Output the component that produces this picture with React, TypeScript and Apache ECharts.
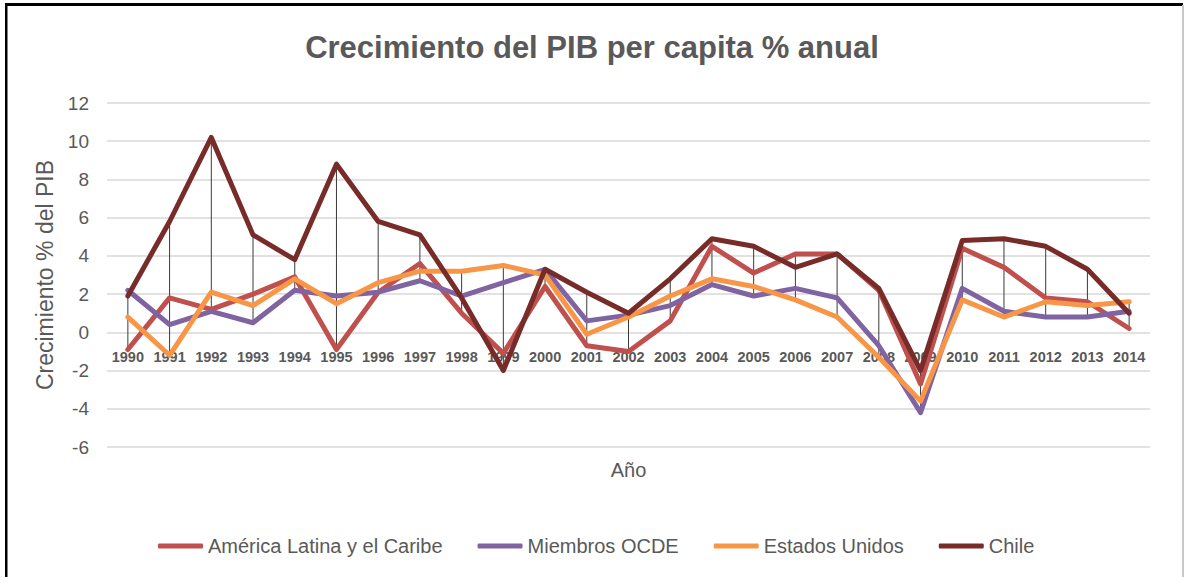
import React, { useEffect, useRef } from "react";
import * as echarts from "echarts";

const years = [
  "1990", "1991", "1992", "1993", "1994", "1995", "1996", "1997", "1998", "1999",
  "2000", "2001", "2002", "2003", "2004", "2005", "2006", "2007", "2008", "2009",
  "2010", "2011", "2012", "2013", "2014",
];

const americaLatina = [
  -0.9, 1.8, 1.2, 2.0, 2.9, -0.9, 2.1, 3.6, 1.0, -1.1,
  2.4, -0.7, -1.0, 0.6, 4.5, 3.1, 4.1, 4.1, 2.2, -2.7,
  4.4, 3.4, 1.8, 1.6, 0.2,
];

const miembrosOCDE = [
  2.2, 0.4, 1.1, 0.5, 2.2, 1.9, 2.1, 2.7, 1.9, 2.6,
  3.3, 0.6, 0.9, 1.4, 2.5, 1.9, 2.3, 1.8, -0.7, -4.2,
  2.3, 1.1, 0.8, 0.8, 1.1,
];

const estadosUnidos = [
  0.8, -1.2, 2.1, 1.4, 2.8, 1.5, 2.6, 3.2, 3.2, 3.5,
  3.0, -0.1, 0.8, 1.9, 2.8, 2.4, 1.7, 0.8, -1.3, -3.6,
  1.7, 0.8, 1.6, 1.4, 1.6,
];

const chile = [
  1.9, 5.8, 10.2, 5.1, 3.8, 8.8, 5.8, 5.1, 1.8, -2.0,
  3.3, 2.1, 1.0, 2.8, 4.9, 4.5, 3.4, 4.1, 2.3, -2.0,
  4.8, 4.9, 4.5, 3.3, 1.0,
];

const seriesNames = ["América Latina y el Caribe", "Miembros OCDE", "Estados Unidos", "Chile"];
const seriesColors = ["#c0504d", "#8064a2", "#f79646", "#772c2a"];
const yTicks = { min: -6, max: 12, interval: 2 };

const titleText = "Crecimiento del PIB per capita % anual";
const yAxisName = "Crecimiento % del PIB";
const xAxisName = "Año";

const FONT = "'Liberation Sans', Arial, sans-serif";

export default function App() {
  const ref = useRef<HTMLDivElement>(null);

  useEffect(() => {
    if (!ref.current) return;
    const chart = echarts.init(ref.current, null, { renderer: "svg" });
    const all = [americaLatina, miembrosOCDE, estadosUnidos, chile];
    const hiLo = years.map((_, i) => {
      const vals = all.map((s) => s[i]);
      return [i, Math.min(...vals), Math.max(...vals)];
    });
    const labelData = years.map((_, i) => [i, 0]);

    const lineSeries = all.map((data, k) => ({
      name: seriesNames[k],
      type: "line",
      data,
      symbol: "none",
      z: 3 + k,
      lineStyle: { color: seriesColors[k], width: 5, join: "round", cap: "round" },
      itemStyle: { color: seriesColors[k] },
    }));

    chart.setOption({
      animation: false,
      backgroundColor: "#ffffff",
      title: {
        text: titleText,
        left: "center",
        top: 27,
        textStyle: { fontFamily: FONT, fontSize: 31, fontWeight: "bold", color: "#595959" },
      },
      legend: {
        data: seriesNames,
        left: 153,
        top: 531,
        itemWidth: 45,
        itemHeight: 5,
        itemGap: 35,
        icon: "roundRect",
        textStyle: { fontFamily: FONT, fontSize: 20, color: "#595959" },
      },
      grid: { left: 107, right: 34, top: 103, bottom: 130, containLabel: false, outerBoundsMode: "none" },
      xAxis: {
        type: "category",
        data: years,
        boundaryGap: true,
        name: xAxisName,
        nameLocation: "middle",
        nameGap: 13,
        nameTextStyle: { fontFamily: FONT, fontSize: 20, color: "#595959" },
        axisLine: { show: false },
        axisTick: { show: false },
        axisLabel: { show: false },
      },
      yAxis: {
        type: "value",
        min: yTicks.min,
        max: yTicks.max,
        interval: yTicks.interval,
        name: yAxisName,
        nameLocation: "middle",
        nameGap: 44,
        nameRotate: 90,
        nameTextStyle: { fontFamily: FONT, fontSize: 23, color: "#595959" },
        axisLine: { show: false },
        axisTick: { show: false },
        axisLabel: { margin: 18, fontFamily: FONT, fontSize: 19, color: "#595959" },
        splitLine: { lineStyle: { color: "#d9d9d9", width: 1.5 } },
      },
      series: [
        {
          type: "custom",
          name: "hilo",
          data: hiLo,
          z: 2,
          silent: true,
          renderItem: (_params: any, api: any) => {
            const idx = api.value(0);
            const p1 = api.coord([idx, api.value(1)]);
            const p2 = api.coord([idx, api.value(2)]);
            return {
              type: "line",
              shape: { x1: p1[0], y1: p1[1], x2: p2[0], y2: p2[1] },
              style: { stroke: "#3a3a3a", lineWidth: 1 },
            };
          },
        },
        {
          type: "custom",
          name: "xlabels",
          data: labelData,
          z: 1,
          silent: true,
          renderItem: (params: any, api: any) => {
            const idx = api.value(0);
            const p = api.coord([idx, api.value(1)]);
            return {
              type: "text",
              x: p[0],
              y: p[1] + 17,
              style: {
                text: years[params.dataIndex],
                fontFamily: FONT,
                fontSize: 14.5,
                fontWeight: "bold",
                fill: "#595959",
                align: "center",
                verticalAlign: "top",
              },
            };
          },
        },
        ...lineSeries,
      ],
      graphic: [
        { type: "rect", shape: { x: 5, y: 3, width: 1178, height: 3 }, style: { fill: "#000000" }, silent: true },
        { type: "rect", shape: { x: 5, y: 3, width: 2.5, height: 574 }, style: { fill: "#000000" }, silent: true },
        { type: "rect", shape: { x: 1182, y: 5, width: 2, height: 572 }, style: { fill: "#c8c8c8" }, silent: true },
      ],
    });

    return () => chart.dispose();
  }, []);

  return (
    <div
      ref={ref}
      style={{ position: "fixed", left: 0, top: 0, width: 1184, height: 577 }}
    />
  );
}
